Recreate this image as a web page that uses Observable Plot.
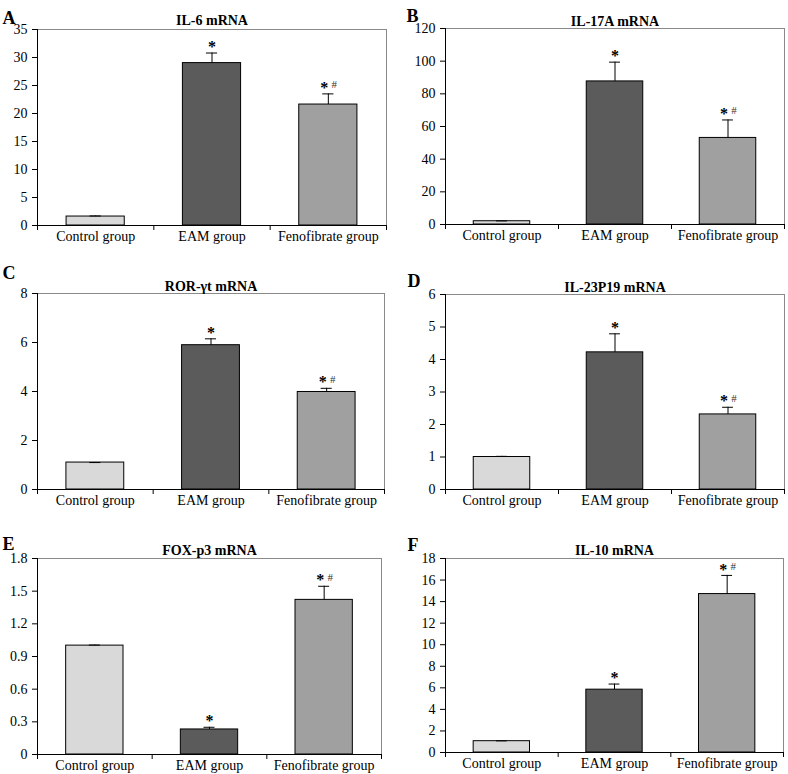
<!DOCTYPE html>
<html><head><meta charset="utf-8">
<script src="https://cdn.jsdelivr.net/npm/d3@7"></script>
<script src="https://cdn.jsdelivr.net/npm/@observablehq/plot@0.6"></script>
<style>
body{margin:0;background:#fff;}
#wrap{position:relative;width:788px;height:774px;font-family:"Liberation Serif",serif;}
#wrap svg{position:absolute;overflow:visible;}
#wrap svg text{font-family:"Liberation Serif",serif;}
</style></head><body><div id="wrap"></div>
<script>
// ---- data ----
const categories = ["Control group", "EAM group", "Fenofibrate group"];
const signs = ["", "*", "*#"];

const titleA = "IL-6 mRNA";
const valuesA = [1.6, 29.0, 21.6];
const errorsA = [0.1, 1.8, 1.9];
const ticksA = [0, 5, 10, 15, 20, 25, 30, 35];

const titleB = "IL-17A mRNA";
const valuesB = [2.0, 87.6, 53.0];
const errorsB = [0.2, 11.8, 11.0];
const ticksB = [0, 20, 40, 60, 80, 100, 120];

const titleC = "ROR-\u03b3t mRNA";
const valuesC = [1.1, 5.89, 3.98];
const errorsC = [0, 0.26, 0.15];
const ticksC = [0, 2, 4, 6, 8];

const titleD = "IL-23P19 mRNA";
const valuesD = [1.0, 4.22, 2.31];
const errorsD = [0.02, 0.57, 0.22];
const ticksD = [0, 1, 2, 3, 4, 5, 6];

const titleE = "FOX-p3 mRNA";
const valuesE = [1.0, 0.23, 1.42];
const errorsE = [0.005, 0.02, 0.125];
const ticksE = [0, 0.3, 0.6, 0.9, 1.2, 1.5, 1.8];

const titleF = "IL-10 mRNA";
const valuesF = [1.05, 5.83, 14.7];
const errorsF = [0.03, 0.52, 1.73];
const ticksF = [0, 2, 4, 6, 8, 10, 12, 14, 16, 18];

// ---- styling / layout ----
const barColors = ["#d9d9d9", "#5b5b5b", "#a0a0a0"];
const FONT = "Liberation Serif";

const layout = [
  {letter: "A", title: titleA, values: valuesA, errors: errorsA, ticks: ticksA, left: 0,   top: 0,   width: 394, height: 250, mt: 29, mb: 25, ml: 37, mr: 8,  tdy: -14, lx: 2,  ly: 11},
  {letter: "B", title: titleB, values: valuesB, errors: errorsB, ticks: ticksB, left: 394, top: 0,   width: 394, height: 250, mt: 28, mb: 26, ml: 51, mr: 4,  tdy: -12, lx: 12, ly: 9},
  {letter: "C", title: titleC, values: valuesC, errors: errorsC, ticks: ticksC, left: 0,   top: 250, width: 394, height: 260, mt: 43, mb: 21, ml: 37, mr: 10, tdy: -12, lx: 2,  ly: 16},
  {letter: "D", title: titleD, values: valuesD, errors: errorsD, ticks: ticksD, left: 394, top: 250, width: 394, height: 260, mt: 44, mb: 21, ml: 51, mr: 4,  tdy: -12, lx: 13, ly: 24},
  {letter: "E", title: titleE, values: valuesE, errors: errorsE, ticks: ticksE, left: 0,   top: 510, width: 394, height: 264, mt: 48, mb: 20, ml: 37, mr: 13, tdy: -13, lx: 2,  ly: 27},
  {letter: "F", title: titleF, values: valuesF, errors: errorsF, ticks: ticksF, left: 394, top: 510, width: 394, height: 264, mt: 48, mb: 22, ml: 51, mr: 5,  tdy: -13, lx: 13, ly: 28}
];

const wrap = document.getElementById("wrap");

for (const p of layout) {
  const data = categories.map((c, i) => ({cat: c, i, v: p.values[i], e: p.errors[i], s: signs[i]}));
  const yMax = p.ticks[p.ticks.length - 1];
  const plotW = p.width - p.ml - p.mr;
  const inset = plotW / 3 * 0.25;
  const capHalf = 0.048;
  const chart = Plot.plot({
    width: p.width,
    height: p.height,
    marginTop: p.mt, marginBottom: p.mb, marginLeft: p.ml, marginRight: p.mr,
    style: `font-family: '${FONT}', serif; background: transparent; color: #000; overflow: visible;`,
    x: {domain: [0, 3], axis: null},
    y: {domain: [0, yMax], axis: null},
    color: {domain: categories, range: barColors},
    marks: [
      Plot.frame({stroke: "#8a8a8a"}),
      Plot.rectY(data, {x1: d => d.i, x2: d => d.i + 1, y1: 0, y2: "v", fill: "cat", stroke: "#000", strokeWidth: 1, insetLeft: inset, insetRight: inset}),
      Plot.ruleX(data, {x: d => d.i + 0.5, y1: "v", y2: d => d.v + d.e, stroke: "#000"}),
      Plot.ruleY(data, {x1: d => d.i + 0.5 - capHalf, x2: d => d.i + 0.5 + capHalf, y: d => d.v + d.e, stroke: "#000"}),
      Plot.text(data.filter(d => d.s === "*"), {x: d => d.i + 0.5, y: d => d.v + d.e, text: () => "*", dy: -6, fontSize: 16, fontWeight: "bold", fontFamily: FONT, fill: "#000"}),
      Plot.text(data.filter(d => d.s === "*#"), {x: d => d.i + 0.5, y: d => d.v + d.e, text: () => "*", dy: -6, dx: -4, fontSize: 16, fontWeight: "bold", fontFamily: FONT, fill: "#000"}),
      Plot.text(data.filter(d => d.s === "*#"), {x: d => d.i + 0.5, y: d => d.v + d.e, text: () => "#", dy: -9, dx: 6, fontSize: 11, fontFamily: FONT, fill: "#333"}),
      Plot.ruleX([0], {stroke: "#000"}),
      Plot.ruleY([0], {stroke: "#000"}),
      Plot.axisY({ticks: p.ticks, tickSize: 5, tickPadding: 5, fontSize: 14, label: null, fontFamily: FONT, tickFormat: d => String(d)}),
      Plot.axisX({ticks: [0, 1, 2, 3], tickSize: 5, label: null, tickFormat: () => ""}),
      Plot.text(data, {x: d => d.i + 0.5, frameAnchor: "bottom", text: "cat", dy: 15, fontSize: 14, fontFamily: FONT, fill: "#000"}),
      Plot.text([p.title], {frameAnchor: "top", dy: p.tdy, fontSize: 14, fontWeight: "bold", fontFamily: FONT, fill: "#000"}),
      Plot.text([p.letter], {frameAnchor: "top-left", textAnchor: "start", dx: p.lx - p.ml, dy: p.ly - p.mt, fontSize: 18, fontWeight: "bold", fontFamily: FONT, fill: "#000"})
    ]
  });
  chart.style.left = p.left + "px";
  chart.style.top = p.top + "px";
  wrap.appendChild(chart);
}
</script>
</body></html>
